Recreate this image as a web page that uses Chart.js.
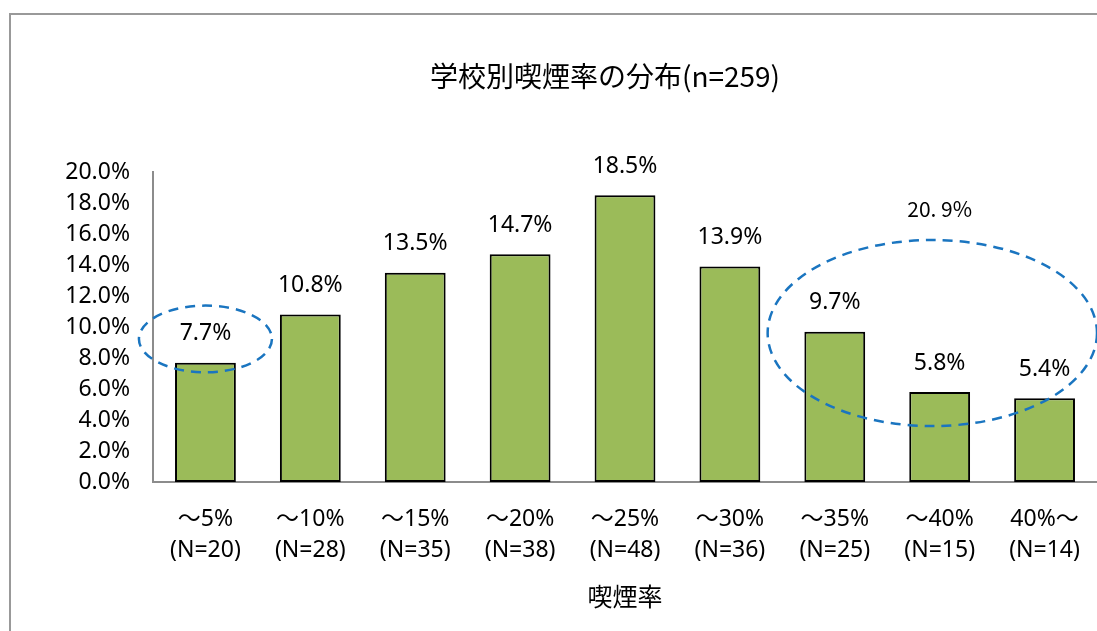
<!DOCTYPE html>
<html>
<head>
<meta charset="utf-8">
<script src="https://cdn.jsdelivr.net/npm/chart.js@4"></script>
<style>
  html, body { margin: 0; padding: 0; background: #fff; overflow: hidden; }
  #wrap { position: relative; width: 1097px; height: 631px; }
</style>
</head>
<body>
<div id="wrap"><canvas id="chart" width="1097" height="631"></canvas></div>
<script>
// 学校別喫煙率の分布
const rangeLabels = ["～5%", "～10%", "～15%", "～20%", "～25%", "～30%", "～35%", "～40%", "40%～"];
const sampleSizes = [20, 28, 35, 38, 48, 36, 25, 15, 14];
const rates = [7.7, 10.8, 13.5, 14.7, 18.5, 13.9, 9.7, 5.8, 5.4];
const yMax = 20;
const yStep = 2;
const chartTitle = "学校別喫煙率の分布(n=259)";
const axisTitle = "喫煙率";
const groupNote = "20. 9%";

const FONT = "'Noto Sans', 'Noto Sans CJK JP', sans-serif";

// 枠・タイトル・ラベル・楕円
const decor = {
  id: "decor",
  beforeDraw(chart) {
    const ctx = chart.ctx;
    ctx.save();
    ctx.strokeStyle = "#999";
    ctx.lineWidth = 2;
    ctx.strokeRect(10, 14, 1200, 700);
    ctx.restore();
  },
  afterDatasetsDraw(chart) {
    const ctx = chart.ctx;
    const x = chart.scales.x;
    const y = chart.scales.y;
    const meta = chart.getDatasetMeta(0);
    ctx.save();
    ctx.fillStyle = "#000";
    ctx.textAlign = "center";
    ctx.textBaseline = "middle";
    ctx.font = "28px 'Noto Sans CJK JP', sans-serif";
    ctx.fillText(chartTitle, 605, 76);

    ctx.font = "23px " + FONT;
    meta.data.forEach((bar, i) => {
      ctx.fillText(rates[i].toFixed(1) + "%", bar.x, bar.y - 29);
    });

    // 楕円（データ座標で指定）
    const catW = x.getPixelForValue(1) - x.getPixelForValue(0);
    const pxPerPct = y.getPixelForValue(0) - y.getPixelForValue(1);
    const ell = (cat, val, rxCat, ryPct) => {
      ctx.beginPath();
      ctx.ellipse(
        x.getPixelForValue(0) + cat * catW, y.getPixelForValue(val),
        rxCat * catW, ryPct * pxPerPct, 0, 0, Math.PI * 2);
      ctx.stroke();
    };
    ctx.strokeStyle = "#1A75C0";
    ctx.lineWidth = 2.5;
    ctx.setLineDash([10, 7]);
    ell(0, 9.23, 0.634, 2.15);
    ell(6.93, 9.61, 1.57, 6.0);
    ctx.setLineDash([]);

    ctx.font = "21px 'Noto Sans CJK JP', sans-serif";
    ctx.fillText(groupNote, x.getPixelForValue(7), y.getPixelForValue(17.6));
    ctx.restore();
  }
};

new Chart(document.getElementById("chart"), {
  type: "bar",
  data: {
    labels: rangeLabels.map((r, i) => [r, "(N=" + sampleSizes[i] + ")"]),
    datasets: [{
      data: rates,
      backgroundColor: "#9BBB59",
      borderColor: "#000",
      borderWidth: 2,
      borderSkipped: false,
      barPercentage: 0.58,
      categoryPercentage: 1,
    }],
  },
  options: {
    responsive: false,
    animation: false,
    layout: { padding: { top: 172, right: -3, bottom: 0, left: 0 } },
    plugins: { legend: { display: false }, tooltip: { enabled: false }, title: { display: false } },
    scales: {
      x: {
        grid: { display: false, drawTicks: false },
        border: { display: true, color: "#8c8c8c", width: 2 },
        ticks: { color: "#000", font: { size: 23, family: FONT, lineHeight: 1.35 }, padding: 22, maxRotation: 0, autoSkip: false },
        title: { display: true, text: axisTitle, color: "#000", font: { size: 25, family: FONT, lineHeight: 1.2 }, padding: { top: 0, bottom: 17 } },
        afterFit(s) { s.height = 149; s.paddingLeft = 0; s.paddingRight = 0; },
      },
      y: {
        min: 0,
        max: yMax,
        grid: { display: false, drawTicks: false },
        border: { display: true, color: "#8c8c8c", width: 2 },
        ticks: {
          stepSize: yStep,
          color: "#000",
          padding: 23,
          font: { size: 23, family: FONT },
          callback: (v) => v.toFixed(1) + "%",
        },
        afterFit(s) { s.width = 153; },
      },
    },
  },
  plugins: [decor],
});
</script>
</body>
</html>
